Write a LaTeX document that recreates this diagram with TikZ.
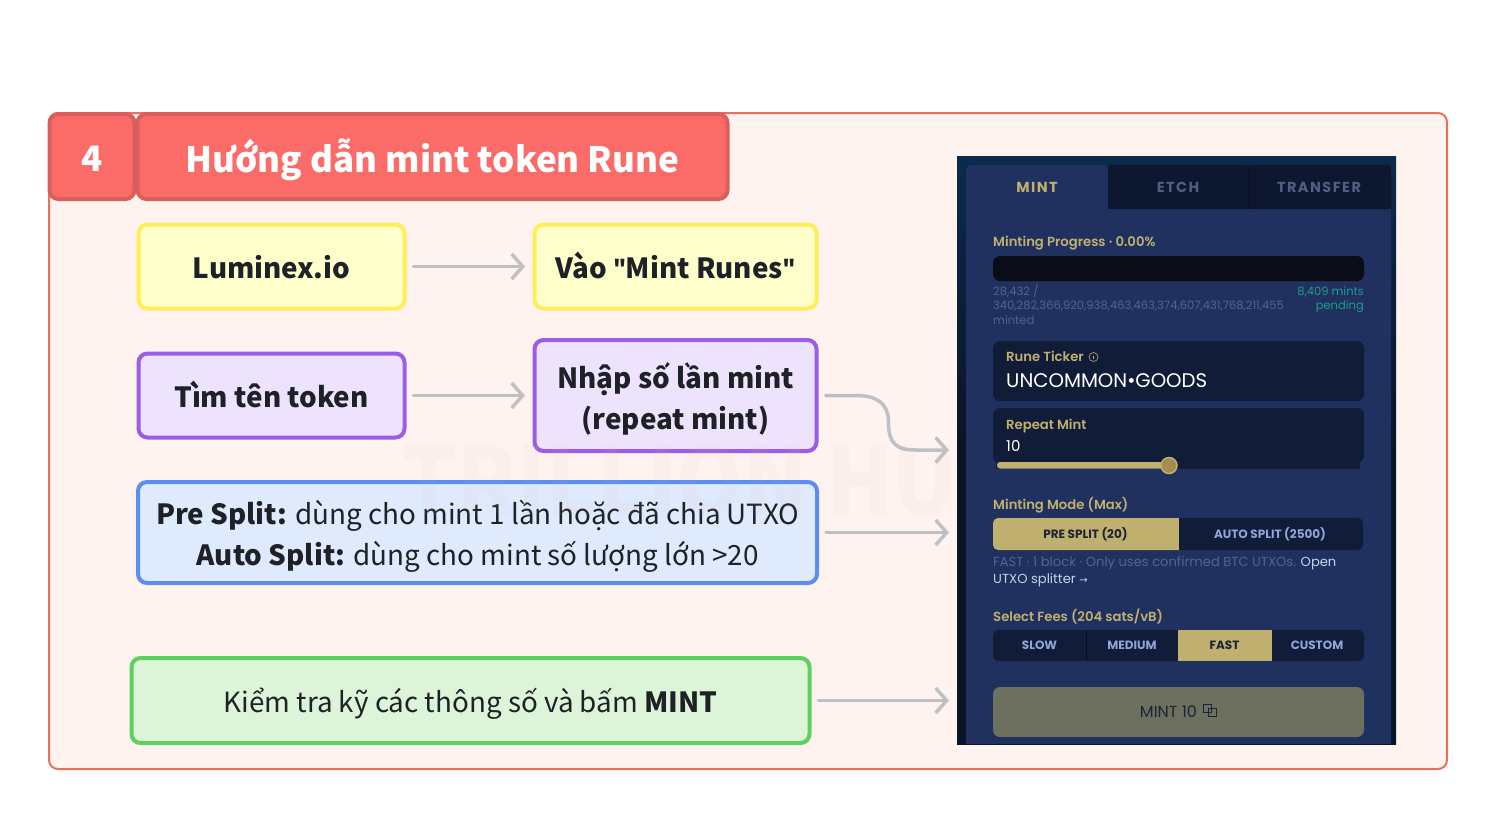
\documentclass[tikz,border=0pt]{standalone}
\usepackage{fontspec}
\usetikzlibrary{arrows.meta,calc}
\setmainfont{Noto Sans CJK SC}[Script=Latin]
\newfontfamily\uifont{Poppins}
\newfontfamily\uimed{Poppins SemiBold}
\newfontfamily\symfont{DejaVu Sans}
\newfontfamily\quotefont{Fira Sans}
\newcommand{\lowered}[2]{\raisebox{-#1}[0pt][0pt]{\begin{tabular}{@{}c@{}}#2\end{tabular}}}
\definecolor{panelbg}{HTML}{FFF3EF}
\definecolor{panelline}{HTML}{E8705F}
\definecolor{headfill}{HTML}{FB6B67}
\definecolor{headline}{HTML}{D95F5C}
\definecolor{arrowc}{HTML}{BEC0C4}
\definecolor{inkc}{HTML}{1E2126}
\definecolor{wmc}{HTML}{D8B8B0}
\definecolor{yl}{HTML}{FDEE5A}\definecolor{yf}{HTML}{FFFFCC}
\definecolor{vl}{HTML}{9B5DE8}\definecolor{vf}{HTML}{EEE3FD}
\definecolor{bl}{HTML}{5C8DF0}\definecolor{bf}{HTML}{DFEAFD}
\definecolor{gl}{HTML}{5FCF5F}\definecolor{gf}{HTML}{DCF5D8}
\definecolor{uiouter}{HTML}{0A1428}
\definecolor{uitop}{HTML}{0C2A4C}
\definecolor{uipanel}{HTML}{20315F}
\definecolor{uidark}{HTML}{111C38}
\definecolor{uitab}{HTML}{0E1730}
\definecolor{uibar}{HTML}{0A0D16}
\definecolor{uigold}{HTML}{BFB06F}
\definecolor{uidim}{HTML}{4F6596}
\definecolor{uibtn}{HTML}{8FA5D6}
\definecolor{uitabt}{HTML}{4F5F80}
\definecolor{uiteal}{HTML}{1F9C8C}
\definecolor{uilink}{HTML}{C5D2EC}
\definecolor{uimint}{HTML}{6E705F}
\definecolor{uiminttext}{HTML}{1C2436}
\definecolor{uiknob}{HTML}{A58C4F}
\tikzset{
  x=1pt,y=-1pt,
  box/.style={draw,line width=4pt,rounded corners=9pt,inner sep=0pt,align=center,text=inkc,font=\fontsize{27.8}{41}\selectfont},
  boxbold/.style={font=\fontsize{27.8}{41}\selectfont\bfseries},
  boxy/.style={box,boxbold,draw=yl,fill=yf},
  boxv/.style={box,boxbold,draw=vl,fill=vf},
  boxb/.style={box,draw=bl,fill=bf},
  boxg/.style={box,draw=gl,fill=gf},
  head/.style={draw=headline,fill=headfill,line width=4pt,rounded corners=9pt,inner sep=0pt,text=white,font=\fontsize{35}{44}\selectfont\bfseries},
  flow/.style={draw=arrowc,line width=3.5pt,line cap=round,-{Straight Barb[length=11pt,width=25pt,line width=3.5pt]}},
  lab/.style={inner sep=0pt,anchor=west,text=uigold,font=\uimed\fontsize{13.2}{14}\selectfont},
  dim/.style={inner sep=0pt,anchor=north west,align=left,text=uidim,font=\uifont\fontsize{11.5}{14.4}\selectfont},
  dimb/.style={inner sep=0pt,anchor=west,text=uidim,font=\uifont\fontsize{13.1}{14.4}\selectfont},
  btnt/.style={inner sep=0pt,font=\uifont\fontsize{12}{12}\selectfont\bfseries},
  tabt/.style={inner sep=0pt,font=\uifont\fontsize{14.5}{14}\selectfont\bfseries},
}
\begin{document}
\begin{tikzpicture}
\useasboundingbox (0,0) rectangle (1498,820);
\fill[white] (0,0) rectangle (1498,820);
% panel
\draw[panelline,fill=panelbg,line width=2pt,rounded corners=9pt] (49,113) rectangle (1447,769);
% header
\node[head,minimum width=85pt,minimum height=85pt] (num) at (92,156.5) {\lowered{12pt}{4}};
\node[head,minimum width=590pt,minimum height=85pt] (title) at (432.5,156.5) {\lowered{12pt}{Hướng dẫn mint token Rune}};
% boxes
\node[boxy,minimum width=266pt,minimum height=84pt] (lum) at (271.5,266.5) {\lowered{10pt}{Luminex.io}};
\node[boxy,minimum width=282pt,minimum height=84pt] (vao) at (675.5,266.5) {\lowered{10pt}{Vào {\quotefont"}Mint Runes{\quotefont"}}};
\node[boxv,minimum width=266pt,minimum height=84pt] (tim) at (271.5,395.5) {\lowered{10pt}{Tìm tên token}};
\node[boxv,minimum width=282pt,minimum height=111pt] (nhap) at (675.5,395.5) {\lowered{11.5pt}{Nhập số lần mint\\(repeat mint)}};
\node[boxb,minimum width=679pt,minimum height=101pt] (split) at (477.5,532.5) {\lowered{11pt}{\textbf{Pre Split:} dùng cho mint 1 lần hoặc đã chia UTXO\\\textbf{Auto Split:} dùng cho mint số lượng lớn >20}};
\node[boxg,minimum width=678pt,minimum height=85pt] (check) at (470.5,700.5) {\lowered{10pt}{Kiểm tra kỹ các thông số và bấm \textbf{MINT}}};
% watermark
\node[inner sep=0pt,text=wmc,text opacity=.07,font=\fontsize{94}{94}\selectfont\bfseries] (wm) at (680,481) {\scalebox{.9}[1]{TRILLION HU}};
% connectors
\coordinate (t1) at (949,450);
\coordinate (t2) at (949,532.5);
\coordinate (t3) at (949,700.5);
\draw[flow,shorten <=7pt,shorten >=7.5pt] (lum.east) -- (vao.west);
\draw[flow,shorten <=7pt,shorten >=7.5pt] (tim.east) -- (nhap.west);
\draw[flow,shorten <=7pt] (nhap.east) -- ++(38,0) .. controls ($(nhap.east)+(68,0)$) and ($(nhap.east)+(70,18)$) .. ($(nhap.east)+(70,27)$) .. controls ($(nhap.east)+(70,48)$) and ($(nhap.east)+(78,54.5)$) .. ($(nhap.east)+(97,54.5)$) -- (t1);
\draw[flow,shorten <=7pt] (split.east) -- (t2);
\draw[flow,shorten <=7pt] (check.east) -- (t3);
% screenshot
\shade[top color=uitop,bottom color=uiouter,middle color=uiouter] (957,156) rectangle (1396,744);
\fill[uipanel,rounded corners=6pt] (966,165) -- (1108,165) -- (1108,210) -- (1391,210) -- (1391,744) -- (966,744) -- cycle;
\fill[uipanel] (966,200) rectangle (1391,744);
\fill[uitab,rounded corners=3pt] (1108,165) rectangle (1249,209);
\fill[uitab,rounded corners=3pt] (1249.5,165) rectangle (1391,209);
\fill[uitab] (1108,190) rectangle (1391,209);
\draw[uibar,line width=.6pt] (1249.5,165) -- (1249.5,209);
\node[tabt,text=uigold] (tmint) at (1037,187) {\addfontfeature{LetterSpace=10}MINT};
\node[tabt,text=uitabt] (tetch) at (1178,187) {\addfontfeature{LetterSpace=10}ETCH};
\node[tabt,text=uitabt] (ttrans) at (1319,187) {\addfontfeature{LetterSpace=10}TRANSFER};
\node[lab] (lprog) at (993,243.5) {Minting Progress · 0.00\%};
\fill[uibar,rounded corners=7pt] (993,256) rectangle (1364,281);
\node[dim] (dprog) at (993,284.5) {28,432 /\\340,282,366,920,938,463,463,374,607,431,768,211,455\\minted};
\node[dim,anchor=north east,align=right,text=uiteal] (pend) at (1364,286.5) {8,409 mints\\pending};
\fill[uidark,rounded corners=7pt] (993,341) rectangle (1364,401);
\node[lab] (lrune) at (1006,356.5) {Rune Ticker};
\draw[uigold,line width=.6pt] (1093.5,357) circle (4.5pt);
\fill[uigold] (1093.1,358.8) rectangle +(.8,-3);
\node[inner sep=0pt,anchor=west,text=white,font=\uifont\fontsize{19.7}{20}\selectfont] (trune) at (1006,381) {UNCOMMON•GOODS};
\fill[uidark,rounded corners=7pt] (993,408) rectangle (1364,463);
\fill[uidark] (996,455) rectangle (1360,468.5);
\node[lab] (lrep) at (1006,426) {Repeat Mint};
\node[inner sep=0pt,anchor=west,text=white,font=\uifont\fontsize{15}{15}\selectfont] (trep) at (1006,446) {10};
\fill[uigold,rounded corners=3pt] (997,462) rectangle (1169,468.5);
\draw[uigold,line width=1.5pt,fill=uiknob] (1169,465.5) circle (8pt);
\node[lab] (lmode) at (993,505) {Minting Mode (Max)};
\fill[uidark,rounded corners=5pt] (993,518) rectangle (1363,550);
\fill[uigold,rounded corners=5pt] (993,518) rectangle (1185,550);
\fill[uidark] (1179,518) rectangle (1190,550);
\node[btnt,text=uiminttext] (bpre) at (1085.5,534) {PRE SPLIT (20)};
\node[btnt,text=uibtn] (bauto) at (1270,534) {AUTO SPLIT (2500)};
\node[dimb] (dfast) at (993,563.5) {FAST · 1 block · Only uses confirmed BTC UTXOs. \textcolor{uilink}{Open}};
\node[dimb,text=uilink] (dutxo) at (993,580) {UTXO splitter {\symfont\fontsize{10}{10}\selectfont →}};
\node[lab] (lfees) at (993,616.5) {Select Fees (204 sats/vB)};
\fill[uidark,rounded corners=6pt] (993,630) rectangle (1364,661);
\fill[uigold] (1178,630) rectangle (1272,661);
\draw[uibar,line width=.6pt] (1086.5,630) -- (1086.5,661);
\node[btnt,text=uibtn] (fslow) at (1039.5,645.5) {SLOW};
\node[btnt,text=uibtn] (fmed) at (1132,645.5) {MEDIUM};
\node[btnt,text=uiminttext] (ffast) at (1224.5,645.5) {FAST};
\node[btnt,text=uibtn] (fcus) at (1317,645.5) {CUSTOM};
\fill[uimint,rounded corners=7pt] (993,687) rectangle (1364,737);
\node[inner sep=0pt,text=uiminttext,font=\uifont\fontsize{16}{16}\selectfont] (tmb) at (1168.5,712) {MINT 10};
\draw[uiminttext,line width=1pt] (1203.5,704.5) rectangle (1211.5,712.5);
\draw[uiminttext,line width=1pt] (1208,708.5) rectangle (1216,716.5);
\end{tikzpicture}
\end{document}
